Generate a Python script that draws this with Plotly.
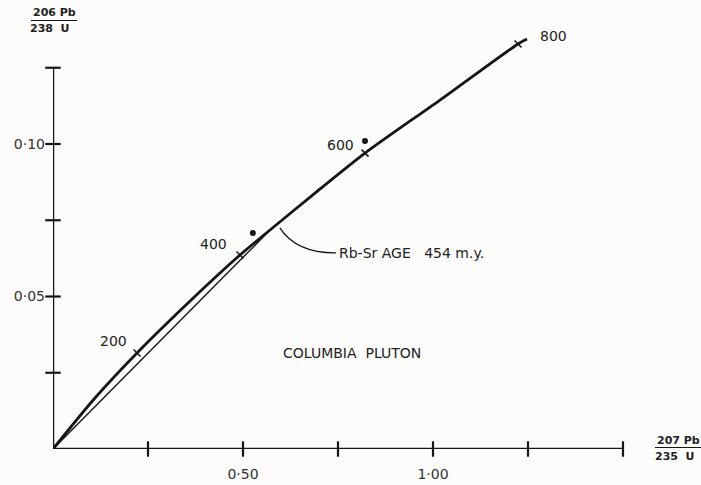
import plotly.graph_objects as go

# ---- data ----
# Concordia curve (207Pb/235U, 206Pb/238U)
concordia_x = [0.0, 0.1105, 0.2211, 0.3553, 0.4921, 0.5711, 0.6895, 0.8211, 1.0184, 1.2237, 1.2474]
concordia_y = [0.0, 0.01672, 0.03148, 0.04787, 0.0636, 0.0718, 0.0839, 0.0970, 0.1144, 0.1328, 0.1344]

# age marks on concordia (m.y.)
age_labels = ["200", "400", "600", "800"]
age_x = [0.2211, 0.4921, 0.8211, 1.2237]
age_y = [0.03148, 0.0636, 0.0970, 0.1328]

# chord from origin to Rb-Sr age point (454 m.y.)
chord_x = [0.0, 0.5711]
chord_y = [0.0, 0.0718]

# measured samples
sample_x = [0.526, 0.821]
sample_y = [0.0708, 0.1010]

# axes
x_ticks = [0.25, 0.50, 0.75, 1.00, 1.25, 1.50]
x_labels = ["0·50", "1·00"]
x_label_vals = [0.50, 1.00]
y_ticks = [0.025, 0.05, 0.075, 0.10, 0.125]
y_labels = ["0·05", "0·10"]
y_label_vals = [0.05, 0.10]
x_max = 1.50
y_max = 0.125

INK = "#151515"
FONT = "DejaVu Sans, Verdana, sans-serif"

fig = go.Figure()

# axis lines
fig.add_trace(go.Scatter(x=[0, x_max], y=[0, 0], mode="lines",
                         line=dict(color=INK, width=2.5), hoverinfo="skip", cliponaxis=False))
fig.add_trace(go.Scatter(x=[0, 0], y=[0, y_max], mode="lines",
                         line=dict(color=INK, width=2.5), hoverinfo="skip", cliponaxis=False))
# crossing tick marks
fig.add_trace(go.Scatter(x=x_ticks, y=[0] * len(x_ticks), mode="markers",
                         marker=dict(symbol="line-ns", size=11, line=dict(color=INK, width=2.2)),
                         hoverinfo="skip", cliponaxis=False))
fig.add_trace(go.Scatter(x=[0] * len(y_ticks), y=y_ticks, mode="markers",
                         marker=dict(symbol="line-ew", size=11, line=dict(color=INK, width=2.2)),
                         hoverinfo="skip", cliponaxis=False))

# chord
fig.add_trace(go.Scatter(x=chord_x, y=chord_y, mode="lines",
                         line=dict(color=INK, width=1.4), hoverinfo="skip"))
# concordia
fig.add_trace(go.Scatter(x=concordia_x, y=concordia_y, mode="lines",
                         line=dict(color=INK, width=2.8, shape="spline", smoothing=0.8),
                         hoverinfo="skip", cliponaxis=False))
# age ticks on concordia
fig.add_trace(go.Scatter(x=age_x, y=age_y, mode="markers",
                         marker=dict(symbol="line-nw", size=7, line=dict(color=INK, width=1.5)),
                         hoverinfo="skip", cliponaxis=False))
# samples
fig.add_trace(go.Scatter(x=sample_x, y=sample_y, mode="markers",
                         marker=dict(symbol="circle", size=6, color=INK),
                         hoverinfo="skip", cliponaxis=False))

# age labels
age_offsets = [(-24, 12), (-27, 11), (-25, 8), (35, 8)]
for lab, ax_, ay_, (dx, dy) in zip(age_labels, age_x, age_y, age_offsets):
    fig.add_annotation(x=ax_, y=ay_, text=lab, showarrow=False, xshift=dx, yshift=dy,
                       font=dict(family=FONT, size=14, color="#222"))

# Rb-Sr callout
fig.add_shape(type="path", xref="x", yref="y",
              path="M 0.597 0.0725 Q 0.640 0.0642 0.745 0.0643",
              line=dict(color=INK, width=1.3))
fig.add_annotation(x=0.748, y=0.0643, text="Rb-Sr AGE   454 m.y.", showarrow=False,
                   xanchor="left", yanchor="middle",
                   font=dict(family=FONT, size=14, color="#222"))

fig.add_annotation(x=0.787, y=0.0315, text="COLUMBIA  PLUTON", showarrow=False,
                   font=dict(family=FONT, size=14, color="#222"))

# axis titles as fractions (paper coords)
L, R, T, B = 53, 623, 22, 449
def px(xp):
    return (xp - L) / (R - L)
def py(yp):
    return (B - yp) / (B - T)

title_font = dict(family=FONT, size=11, color="#222")
def frac_text(xp, yp, text):
    fig.add_annotation(xref="paper", yref="paper", x=px(xp), y=py(yp), text=text,
                       xanchor="center", yanchor="middle", showarrow=False, font=title_font)

frac_text(54, 13, "<b>206 Pb</b>")
frac_text(50, 28, "<b>238  U</b>")
fig.add_shape(type="line", xref="paper", yref="paper", x0=px(31), x1=px(77), y0=py(20.5), y1=py(20.5),
              line=dict(color=INK, width=1))
frac_text(678, 440, "<b>207 Pb</b>")
frac_text(675, 456, "<b>235  U</b>")
fig.add_shape(type="line", xref="paper", yref="paper", x0=px(655), x1=px(701), y0=py(447.5), y1=py(447.5),
              line=dict(color=INK, width=1))

fig.update_layout(
    width=701, height=485,
    margin=dict(l=L, r=701 - R, t=T, b=485 - B, autoexpand=False),
    paper_bgcolor="#fcfcfa", plot_bgcolor="#fcfcfa",
    showlegend=False,
    xaxis=dict(range=[0, x_max], showgrid=False, zeroline=False, showline=False,
               tickvals=x_label_vals, ticktext=x_labels, ticks="",
               ticklabelstandoff=15, automargin=False,
               tickfont=dict(family=FONT, size=14, color="#333"), fixedrange=True),
    yaxis=dict(range=[0, (B - T) / 3050], showgrid=False, zeroline=False, showline=False,
               tickvals=y_label_vals, ticktext=y_labels, ticks="",
               ticklabelstandoff=7, automargin=False,
               tickfont=dict(family=FONT, size=14, color="#333"), fixedrange=True),
)

fig.write_html("out.html")
